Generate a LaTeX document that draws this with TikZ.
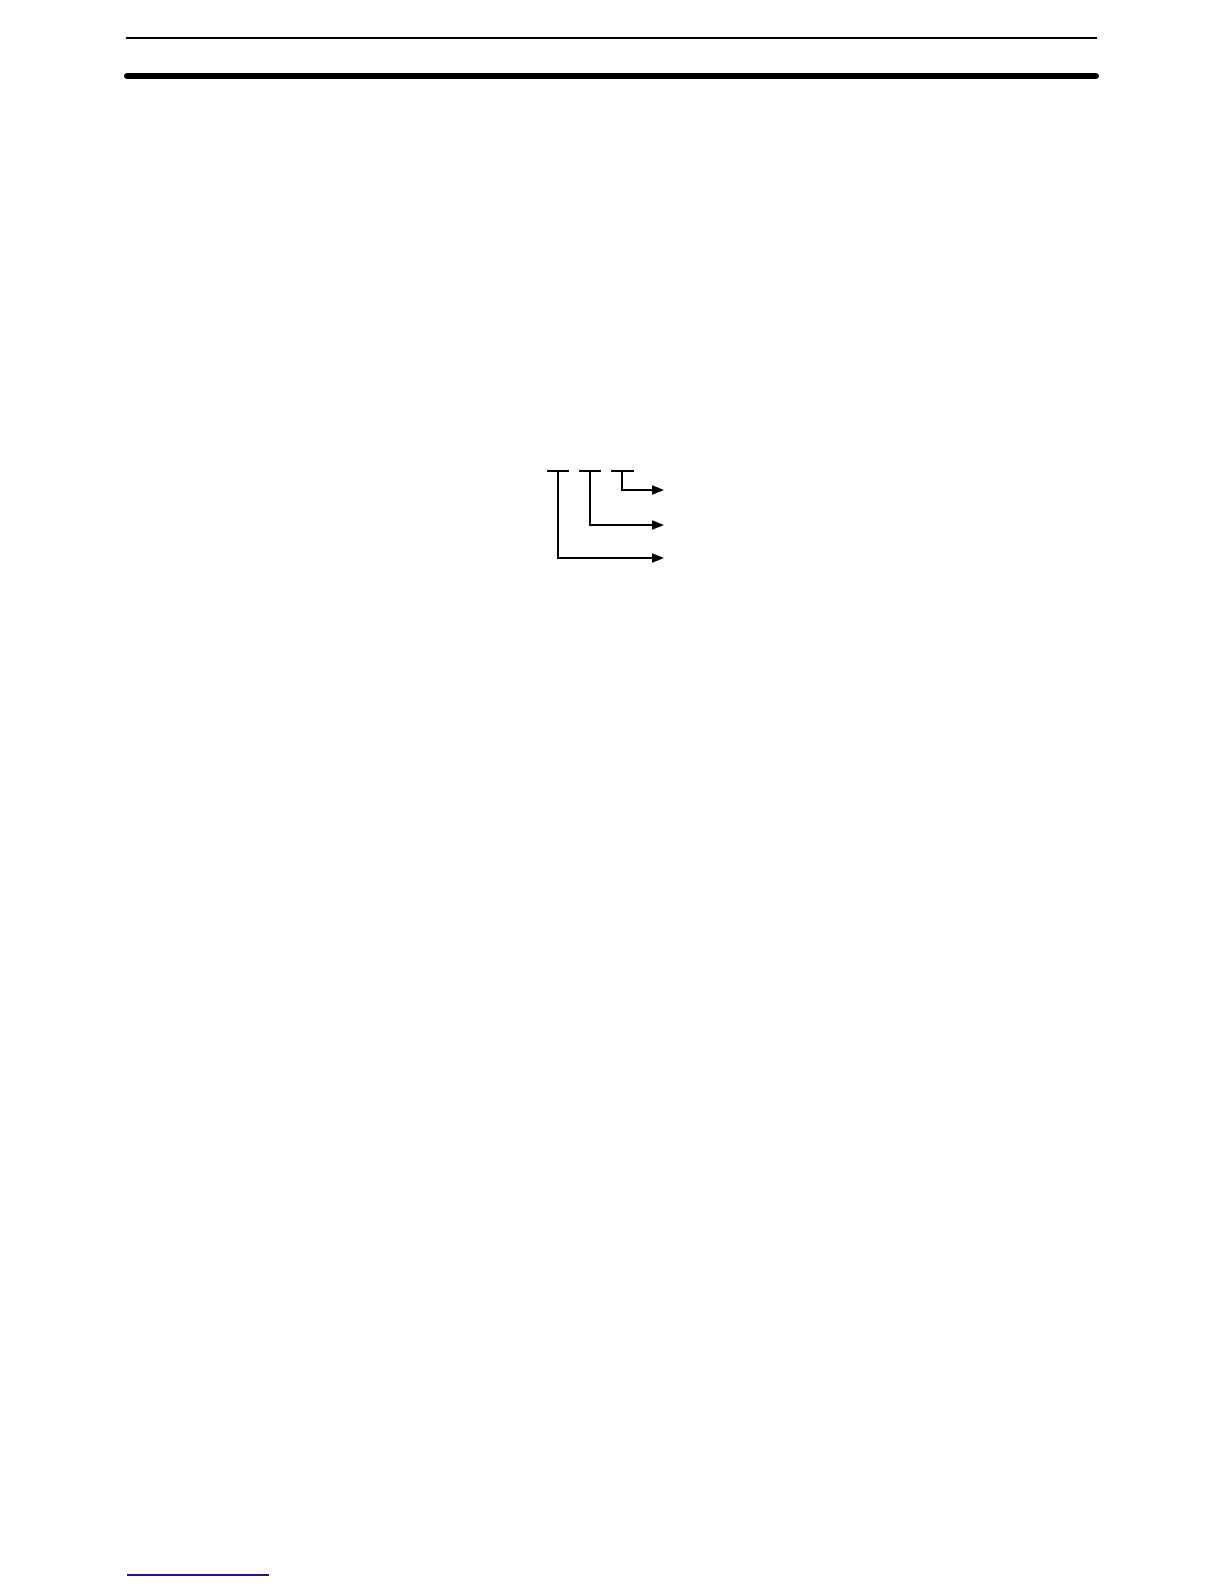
\documentclass[tikz,border=0pt]{standalone}
\usetikzlibrary{arrows.meta}
\definecolor{footblue}{RGB}{25,25,140}
\begin{document}
\begin{tikzpicture}[x=0.5pt,y=-0.5pt,
  rulethin/.style={line width=1pt},
  rulethick/.style={line width=3pt,line cap=round},
  bar/.style={line width=1pt},
  lead/.style={line width=1pt,-{Triangle[length=6pt,width=4.5pt]}},
  footrule/.style={line width=0.8pt,draw=footblue}]
\useasboundingbox[fill=white] (0,0) rectangle (1224,1584);
% header rules
\coordinate (t1a) at (126,38);
\coordinate (t1b) at (1097,38);
\coordinate (t2a) at (127,76);
\coordinate (t2b) at (1096,76);
\draw[rulethin] (t1a) -- (t1b);
\draw[rulethick] (t2a) -- (t2b);
% bars
\coordinate (b1l) at (547,471); \coordinate (b1r) at (569,471); \coordinate (b1c) at (558,471);
\coordinate (b2l) at (579,471); \coordinate (b2r) at (601,471); \coordinate (b2c) at (590,471);
\coordinate (b3l) at (611,471); \coordinate (b3r) at (634,471); \coordinate (b3c) at (622,471);
\draw[bar] (b1l) -- (b1r);
\draw[bar] (b2l) -- (b2r);
\draw[bar] (b3l) -- (b3r);
% arrow ends
\coordinate (e3) at (664,490);
\coordinate (e2) at (664,525);
\coordinate (e1) at (664,558);
\draw[lead] (b3c) |- (e3);
\draw[lead] (b2c) |- (e2);
\draw[lead] (b1c) |- (e1);
% footer rule
\coordinate (fa) at (127,1575);
\coordinate (fb) at (269,1575);
\draw[footrule] (fa) -- (fb);
\end{tikzpicture}
\end{document}
